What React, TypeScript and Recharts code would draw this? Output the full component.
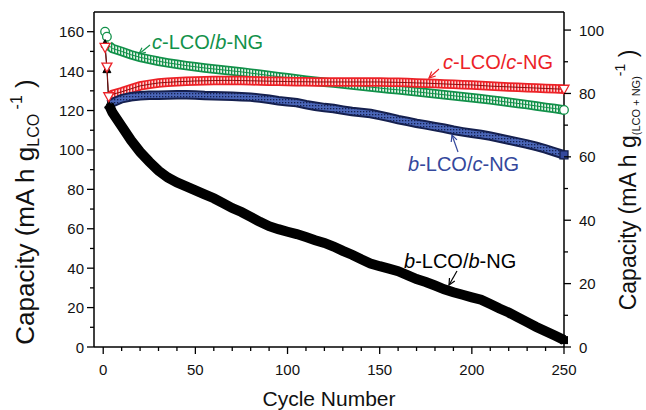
import React from 'react';
import { LineChart, Line, XAxis, YAxis, ReferenceLine } from 'recharts';

const cycles = [1, 2, 3, 5, 10, 15, 20, 25, 30, 35, 40, 45, 50, 55, 60, 65, 70, 75, 80, 85, 90, 95, 100,
  105, 110, 115, 120, 125, 130, 135, 140, 145, 150, 155, 160, 165, 170, 175, 180, 185, 190, 195, 200,
  205, 210, 215, 220, 225, 230, 235, 240, 245, 250];

// b-LCO/b-NG (black)
const bLcoBNg = [154, 141, 123, 119, 112, 105, 99, 94, 89.5, 86, 83.5, 81.5, 79.5, 77.5, 75.5, 73, 70.5, 68.5, 66, 63.5, 61.3, 59.8, 58.5,
  57.3, 55.8, 54.2, 52.8, 51, 48.8, 46.8, 44.5, 42.4, 41, 39.8, 38.5, 36.5, 34.5, 33, 31.2, 29.3, 27.8, 26.5, 25.2,
  24, 21.8, 19.5, 17.5, 15, 12.6, 10.2, 8, 5.8, 3.5];

// b-LCO/c-NG (blue)
const bLcoCNg = [153, 140, 123, 124, 126, 127, 127.5, 127.7, 127.8, 127.9, 128, 128, 127.9, 127.6, 127.5, 127.4, 127.3, 127, 126.8, 126.3, 125.7, 125, 124.5,
  124, 123, 122.2, 121.5, 121, 120.2, 119.5, 119, 118.5, 117.5, 116.5, 115.4, 114.5, 113.5, 112.7, 111.8, 111, 110, 109.2, 108.5,
  107.8, 107, 106, 105, 104, 103, 101.8, 100.5, 99, 97.5];

// c-LCO/c-NG (red)
const cLcoCNg = [152, 142, 127, 128.2, 129.5, 131, 132.5, 133.3, 134, 134.3, 134.6, 134.8, 135, 135.1, 135.2, 135.3, 135.3, 135.2, 135.1, 135, 134.9, 134.8, 134.7,
  134.6, 134.6, 134.5, 134.5, 134.5, 134.5, 134.5, 134.5, 134.5, 134.5, 134.4, 134.3, 134.2, 134, 133.9, 133.7, 133.5, 133.3, 133.1, 133,
  132.7, 132.4, 132.2, 132, 131.8, 131.6, 131.4, 131.2, 131, 130.8];

// c-LCO/b-NG (green)
const cLcoBNg = [160, 157.5, 153, 151.5, 150, 148.3, 147, 146, 145, 144.2, 143.5, 142.8, 142.2, 141.6, 141.1, 140.6, 140.1, 139.6, 139, 138.4, 137.8, 137.2, 136.6,
  136, 135.4, 134.9, 134.4, 133.9, 133.4, 132.9, 132.4, 131.9, 131.4, 130.9, 130.5, 130, 129.5, 129, 128.5, 128, 127.5, 127, 126.5,
  126, 125.4, 124.8, 124.2, 123.6, 123, 122.3, 121.6, 121, 120.3];

const xTicks = [0, 10, 20, 30, 40, 50, 60, 70, 80, 90, 100, 110, 120, 130, 140, 150, 160, 170, 180, 190, 200, 210, 220, 230, 240, 250];
const leftTicks = [0, 10, 20, 30, 40, 50, 60, 70, 80, 90, 100, 110, 120, 130, 140, 150, 160];
const rightTicks = [0, 10, 20, 30, 40, 50, 60, 70, 80, 90, 100];

const RED = '#ec2227';
const GREEN = '#12914a';
const BLUE = '#34489c';
const NAVY = '#15204f';
const FONT = '"Liberation Sans", Arial, Helvetica, sans-serif';

const data = cycles.map((c, i) => ({
  cycle: c,
  bb: bLcoBNg[i],
  bbBand: c >= 3 ? bLcoBNg[i] : null,
  bc: bLcoCNg[i],
  bcBand: c >= 3 ? bLcoCNg[i] : null,
  cc: cLcoCNg[i],
  ccBand: c >= 3 ? cLcoCNg[i] : null,
  cb: cLcoBNg[i],
  cbBand: c >= 3 ? cLcoBNg[i] : null,
}));

const last = cycles.length - 1;

const XTick = (props: any) => {
  const { x, y, payload } = props;
  const major = payload.value % 50 === 0;
  return (
    <g>
      <line x1={x} x2={x} y1={y} y2={y + (major ? 7 : 4)} stroke="#000" strokeWidth={1.3} />
      {major && (
        <text x={x} y={y + 28} textAnchor="middle" fontSize={15} fontFamily={FONT} fill="#111">{payload.value}</text>
      )}
    </g>
  );
};

const LeftTick = (props: any) => {
  const { x, y, payload } = props;
  const major = payload.value % 20 === 0;
  return (
    <g>
      <line x1={x - (major ? 7 : 4)} x2={x} y1={y} y2={y} stroke="#000" strokeWidth={1.3} />
      {major && (
        <text x={x - 10} y={y + 5.5} textAnchor="end" fontSize={15} fontFamily={FONT} fill="#111">{payload.value}</text>
      )}
    </g>
  );
};

const RightTick = (props: any) => {
  const { x, y, payload } = props;
  const major = payload.value % 20 === 0;
  return (
    <g>
      <line x1={x} x2={x + (major ? 7 : 4)} y1={y} y2={y} stroke="#000" strokeWidth={1.3} />
      {major && (
        <text x={x + 15} y={y + 5.5} textAnchor="start" fontSize={15} fontFamily={FONT} fill="#111">{payload.value}</text>
      )}
    </g>
  );
};

const showMarker = (i: number) => i <= 2 || i === last;

const redDot = (p: any) => {
  const { cx, cy, index } = p;
  if (cx == null || cy == null || !showMarker(index)) return <g key={`r${index}`} />;
  return <path key={`r${index}`} d={`M${cx - 5},${cy - 4} L${cx + 5},${cy - 4} L${cx},${cy + 5} Z`} fill="#fff" stroke={RED} strokeWidth={1.3} />;
};

const greenDot = (p: any) => {
  const { cx, cy, index } = p;
  if (cx == null || cy == null || !(index <= 1 || index === last)) return <g key={`g${index}`} />;
  return <circle key={`g${index}`} cx={cx} cy={cy} r={4.3} fill="#fff" stroke={GREEN} strokeWidth={1.3} />;
};

const blackDot = (p: any) => {
  const { cx, cy, index } = p;
  if (cx == null || cy == null || !showMarker(index)) return <g key={`k${index}`} />;
  if (index === last) return <rect key={`k${index}`} x={cx - 4} y={cy - 4} width={8} height={8} fill="#000" />;
  return <path key={`k${index}`} d={`M${cx - 4},${cy + 3.5} L${cx + 4},${cy + 3.5} L${cx},${cy - 4} Z`} fill="#000" stroke="#000" />;
};

const blueDot = (p: any) => {
  const { cx, cy, index } = p;
  if (cx == null || cy == null || index !== last) return <g key={`b${index}`} />;
  return <rect key={`b${index}`} x={cx - 4} y={cy - 4} width={8} height={8} fill={BLUE} stroke={NAVY} strokeWidth={1.3} />;
};

const Arrow = ({ x1, y1, x2, y2, color }: { x1: number; y1: number; x2: number; y2: number; color: string }) => {
  const a = Math.atan2(y2 - y1, x2 - x1);
  const h = 7;
  const s = 0.45;
  const p1 = [x2 - h * Math.cos(a - s), y2 - h * Math.sin(a - s)];
  const p2 = [x2 - h * Math.cos(a + s), y2 - h * Math.sin(a + s)];
  return (
    <g stroke={color} strokeWidth={1.2} fill="none">
      <line x1={x1} y1={y1} x2={x2} y2={y2} />
      <polyline points={`${p1[0]},${p1[1]} ${x2},${y2} ${p2[0]},${p2[1]}`} />
    </g>
  );
};

const SeriesLabel = ({ x, y, a, b, color }: { x: number; y: number; a: string; b: string; color: string }) => (
  <text x={x} y={y} fontSize={20} fontFamily={FONT} fill={color}>
    <tspan fontStyle="italic">{a}</tspan>-LCO/<tspan fontStyle="italic">{b}</tspan>-NG
  </text>
);

export default function App() {
  return (
    <div style={{ position: 'absolute', left: 0, top: 0, width: 646, height: 410, background: '#fff' }}>
      <LineChart width={646} height={410} data={data} margin={{ top: 12, right: 0, bottom: 0, left: 0 }}>
        <defs>
          <pattern id="hatchRed" width="3" height="3" patternUnits="userSpaceOnUse">
            <rect width="3" height="3" fill="#fbd3d3" />
            <rect width="1.5" height="3" fill={RED} />
          </pattern>
          <pattern id="hatchGreen" width="3" height="3" patternUnits="userSpaceOnUse">
            <rect width="3" height="3" fill="#e6f4ea" />
            <rect width="1.3" height="3" fill={GREEN} />
          </pattern>
          <pattern id="hatchBlue" width="3" height="3" patternUnits="userSpaceOnUse">
            <rect width="3" height="3" fill="#4a66b8" />
            <rect width="1.3" height="1.3" fill={NAVY} />
          </pattern>
        </defs>
        <XAxis
          dataKey="cycle"
          type="number"
          domain={[-5, 250]}
          ticks={xTicks}
          interval={0}
          height={63}
          tickSize={0}
          tickMargin={0}
          tickLine={false}
          tick={<XTick />}
          axisLine={{ stroke: '#000', strokeWidth: 1.5 }}
        />
        <YAxis
          yAxisId="left"
          type="number"
          domain={[0, 170]}
          ticks={leftTicks}
          interval={0}
          width={94}
          tickSize={0}
          tickMargin={0}
          tickLine={false}
          tick={<LeftTick />}
          axisLine={{ stroke: '#000', strokeWidth: 1.5 }}
        />
        <YAxis
          yAxisId="right"
          orientation="right"
          type="number"
          domain={[0, 105.7]}
          allowDataOverflow
          ticks={rightTicks}
          interval={0}
          width={82}
          tickSize={0}
          tickMargin={0}
          tickLine={false}
          tick={<RightTick />}
          axisLine={{ stroke: '#000', strokeWidth: 1.5 }}
        />
        <ReferenceLine yAxisId="left" y={170} stroke="#000" strokeWidth={1.5} ifOverflow="visible" />

        {/* carrier for the right axis, not drawn */}
        <Line yAxisId="right" dataKey="bc" stroke="none" strokeWidth={0} dot={false} activeDot={false} isAnimationActive={false} />

        {/* c-LCO/b-NG */}
        <Line yAxisId="left" dataKey="cbBand" stroke={GREEN} strokeWidth={9.5} dot={false} isAnimationActive={false} />
        <Line yAxisId="left" dataKey="cbBand" stroke="url(#hatchGreen)" strokeWidth={6} dot={false} isAnimationActive={false} />
        <Line yAxisId="left" dataKey="cb" stroke={GREEN} strokeWidth={1} dot={greenDot} isAnimationActive={false} />

        {/* c-LCO/c-NG */}
        <Line yAxisId="left" dataKey="ccBand" stroke={RED} strokeWidth={9.5} dot={false} isAnimationActive={false} />
        <Line yAxisId="left" dataKey="ccBand" stroke="url(#hatchRed)" strokeWidth={6} dot={false} isAnimationActive={false} />

        {/* b-LCO/c-NG */}
        <Line yAxisId="left" dataKey="bcBand" stroke={NAVY} strokeWidth={9.5} dot={false} isAnimationActive={false} />
        <Line yAxisId="left" dataKey="bcBand" stroke="url(#hatchBlue)" strokeWidth={5.5} dot={blueDot} isAnimationActive={false} />

        {/* b-LCO/b-NG */}
        <Line yAxisId="left" dataKey="bbBand" stroke="#000" strokeWidth={10} dot={false} isAnimationActive={false} />
        <Line yAxisId="left" dataKey="bb" stroke="#000" strokeWidth={1} dot={blackDot} isAnimationActive={false} />
        <Line yAxisId="left" dataKey="cc" stroke="#8a1010" strokeWidth={1} dot={redDot} isAnimationActive={false} />
      </LineChart>

      <svg width={646} height={410} style={{ position: 'absolute', left: 0, top: 0, pointerEvents: 'none' }}>
        <SeriesLabel x={152} y={49} a="c" b="b" color={GREEN} />
        <Arrow x1={150} y1={45} x2={139} y2={54} color={GREEN} />
        <SeriesLabel x={443} y={69} a="c" b="c" color={RED} />
        <Arrow x1={439} y1={69} x2={429} y2={78} color={RED} />
        <SeriesLabel x={408} y={171} a="b" b="c" color={BLUE} />
        <Arrow x1={458} y1={152} x2={452} y2={135} color={BLUE} />
        <SeriesLabel x={404} y={268} a="b" b="b" color="#000" />
        <Arrow x1={457} y1={271} x2={449} y2={285} color="#000" />

        <text x={329} y={406} textAnchor="middle" fontSize={21} fontFamily={FONT} fill="#111">Cycle Number</text>

        <text transform="translate(34,212) rotate(-90)" textAnchor="middle" fontSize={26} fontFamily={FONT} fill="#111">
          Capacity (mA h g<tspan fontSize={16} dy={5}>LCO</tspan>
          <tspan fontSize={16} dy={-17}> -1</tspan>
          <tspan dy={12}> )</tspan>
        </text>

        <text transform="translate(636,180) rotate(-90)" textAnchor="middle" fontSize={23} fontFamily={FONT} fill="#111">
          Capacity (mA h g<tspan fontSize={11} dy={4}>(LCO + NG)</tspan>
          <tspan fontSize={14} dy={-15}>-1</tspan>
          <tspan dy={11}> )</tspan>
        </text>
      </svg>
    </div>
  );
}
